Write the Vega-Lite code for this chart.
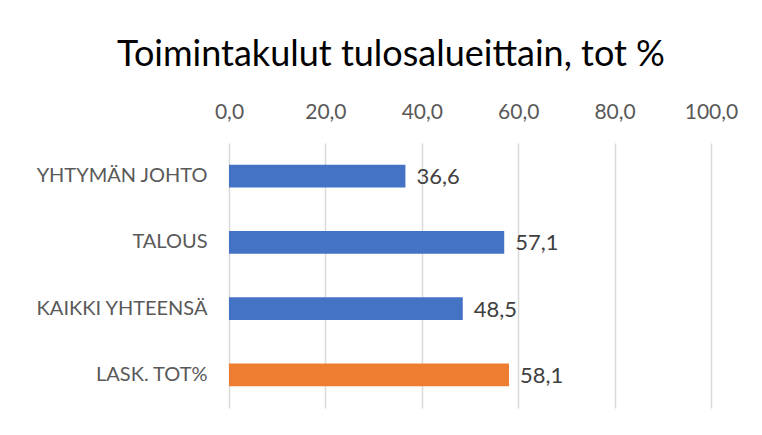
{
  "$schema": "https://vega.github.io/schema/vega-lite/v6.json",
  "width": 482,
  "height": 265,
  "autosize": {"type": "none"},
  "padding": {"left": 229, "top": 143, "right": 51, "bottom": 27},
  "background": "white",
  "config": {
    "locale": {"number": {"decimal": ",", "thousands": " ", "grouping": [3], "currency": ["", " €"]}},
    "view": {"stroke": null},
    "font": "Lato"
  },
  "title": {
    "text": "Toimintakulut tulosalueittain, tot %",
    "font": "Lato",
    "fontSize": 36,
    "fontWeight": "normal",
    "color": "#000000",
    "anchor": "middle",
    "dx": -79,
    "offset": 27
  },
  "data": {
    "values": [
      {"alue": "YHTYMÄN JOHTO", "arvo": 36.6, "tyyppi": "a"},
      {"alue": "TALOUS", "arvo": 57.1, "tyyppi": "a"},
      {"alue": "KAIKKI YHTEENSÄ", "arvo": 48.5, "tyyppi": "a"},
      {"alue": "LASK. TOT%", "arvo": 58.1, "tyyppi": "b"}
    ]
  },
  "encoding": {
    "y": {
      "field": "alue",
      "type": "nominal",
      "sort": null,
      "title": null,
      "scale": {"paddingInner": 0.66, "paddingOuter": 0.33},
      "axis": {"domain": false, "ticks": false, "labelPadding": 22, "labelFontSize": 20, "labelColor": "#595959", "labelFont": "Lato"}
    },
    "x": {
      "field": "arvo",
      "type": "quantitative",
      "title": null,
      "scale": {"domain": [0, 100]},
      "axis": {"orient": "top", "values": [0, 20, 40, 60, 80, 100], "format": ".1f", "domain": false, "ticks": false, "labelFlush": false, "labelBound": false, "labelPadding": 21, "labelFontSize": 21, "labelColor": "#595959", "labelFont": "Lato", "gridColor": "#d9d9d9", "gridWidth": 1.5}
    }
  },
  "layer": [
    {
      "mark": {"type": "bar"},
      "encoding": {
        "color": {"field": "tyyppi", "type": "nominal", "legend": null, "scale": {"domain": ["a", "b"], "range": ["#4472C4", "#ED7D31"]}}
      }
    },
    {
      "mark": {"type": "text", "align": "left", "dx": 11, "dy": 1, "fontSize": 22, "color": "#404040", "font": "Lato"},
      "encoding": {"text": {"field": "arvo", "type": "quantitative", "format": ".1f"}}
    }
  ]
}
